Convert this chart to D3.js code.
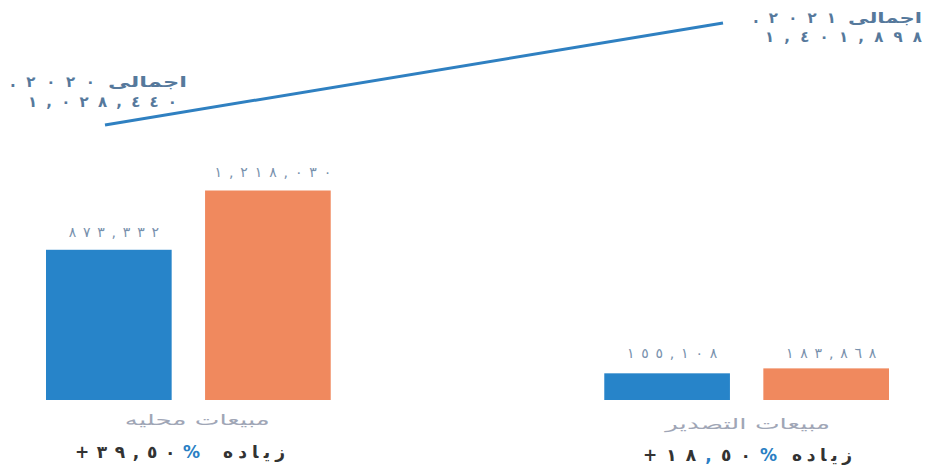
<!DOCTYPE html>
<html><head><meta charset="utf-8">
<script src="https://cdn.jsdelivr.net/npm/d3@7"></script>
<style>
html,body{margin:0;padding:0;background:#fff;}
svg{display:block;font-family:"DejaVu Sans",sans-serif;}
</style></head>
<body><svg id="chart" width="928" height="470"></svg>
<script>
// ---- data ----
const categories = ["مبيعات محليه", "مبيعات التصدير"];
const years = ["2020", "2021"];
const yearLabels = ["٢٠٢٠", "٢٠٢١"];
const sales2020 = [873332, 155108];
const sales2021 = [1218030, 183868];
const totals = [1028440, 1401898];
const increaseNumbers = ["+٣٩", "+١٨"];
const increaseDecimals = ["٥٠", "٥٠"];
const increaseWord = "زياده";
const totalWord = "اجمالى";
const colors = {"2020": "#2784c9", "2021": "#f0895e"};

const arDigits = "٠١٢٣٤٥٦٧٨٩";
const toAr = s => String(s).replace(/[0-9]/g, d => arDigits[+d]);
const fmt = v => toAr(d3.format(",")(v));

const svg = d3.select("#chart");

// scales
const x0 = d3.scaleBand().domain(categories).range([46, 889]).paddingInner(0.49).paddingOuter(0);
const x1 = d3.scaleBand().domain(years).range([0, x0.bandwidth()]).paddingInner(0.21);
const y = d3.scaleLinear().domain([0, 1400000]).range([400, 159.2]);

const rows = categories.map((c, i) => ({cat: c, vals: [{yr: "2020", v: sales2020[i]}, {yr: "2021", v: sales2021[i]}]}));

const grp = svg.append("g").selectAll("g.grp").data(rows).join("g")
  .attr("transform", d => `translate(${x0(d.cat)},0)`);

grp.selectAll("rect").data(d => d.vals).join("rect")
  .attr("x", d => x1(d.yr))
  .attr("y", d => y(d.v))
  .attr("width", x1.bandwidth())
  .attr("height", d => y(0) - y(d.v))
  .attr("fill", d => colors[d.yr]);

// value labels (spaced digits)
grp.selectAll("text.val").data((d, i) => d.vals.map(v => ({...v, small: i === 1}))).join("text")
  .attr("class", "val")
  .attr("x", d => x1(d.yr) + x1.bandwidth() / 2 + 5)
  .attr("y", d => d.small ? 358 : y(d.v) - 13)
  .attr("text-anchor", "middle")
  .style("direction", "ltr").style("unicode-bidi", "bidi-override")
  .attr("fill", "#7891ad")
  .attr("font-size", 14)
  .text(d => fmt(d.v))
  .attr("textLength", d => fmt(d.v).length * 13.2 - 2)
  .attr("lengthAdjust", "spacing");

// category labels
grp.append("text")
  .attr("x", (d, i) => x0.bandwidth() / 2 + (i === 0 ? 9 : 1))
  .attr("y", (d, i) => i === 0 ? 425 : 429)
  .attr("text-anchor", "middle")
  .attr("fill", "#a0a6b6")
  .attr("font-size", 15)
  .text(d => d.cat)
  .attr("textLength", (d, i) => i === 0 ? 145 : 165)
  .attr("lengthAdjust", "spacingAndGlyphs");

// increase labels
grp.each(function(d, i) {
  const gg = d3.select(this);
  const gx = x0(d.cat);
  const yy = i === 0 ? 458 : 461;
  const numLeft = (i === 0 ? 75 : 643) - gx;
  const numW = i === 0 ? 125 : 134;
  const wordLeft = (i === 0 ? 223 : 792) - gx;
  const wordW = i === 0 ? 62 : 60;
  const num = gg.append("text")
    .attr("x", numLeft).attr("y", yy).attr("text-anchor", "start")
    .attr("fill", "#333").attr("font-size", 17).attr("font-weight", "bold")
    .style("direction", "ltr").style("unicode-bidi", "bidi-override");
  num.append("tspan").text(increaseNumbers[i]);
  num.append("tspan").attr("fill", i === 1 ? "#2a7fc4" : "#333").text(",");
  num.append("tspan").text(increaseDecimals[i]);
  num.append("tspan").attr("fill", "#2a7fc4").text("%");
  num.attr("textLength", numW).attr("lengthAdjust", "spacing");
  gg.append("text")
    .attr("x", wordLeft).attr("y", yy).attr("text-anchor", "start")
    .attr("fill", "#333").attr("font-size", 17).attr("font-weight", "bold")
    .text(increaseWord)
    .attr("textLength", wordW).attr("lengthAdjust", "spacing");
});

// total line
const xl = d3.scalePoint().domain(years).range([105, 723]);
const yl = d3.scaleLinear().domain([totals[0], totals[1]]).range([125, 23]);
const lineData = years.map((yr, i) => ({yr, v: totals[i]}));
svg.append("path")
  .datum(lineData)
  .attr("fill", "none")
  .attr("stroke", "#2f80c1")
  .attr("stroke-width", 3)
  .attr("d", d3.line().x(d => xl(d.yr)).y(d => yl(d.v)));

// total labels
const totalPos = [
  {yearL: 10, yearW: 85, wordL: 108, wordW: 79, numL: 28, numW: 149, y1: 87, y2: 107},
  {yearL: 753, yearW: 83, wordL: 848, wordW: 74, numL: 765, numW: 157, y1: 23, y2: 42}
];
lineData.forEach((d, i) => {
  const p = totalPos[i];
  svg.append("text")
    .attr("x", p.wordL).attr("y", p.y1)
    .attr("fill", "#56799c").attr("font-size", 15).attr("font-weight", "bold")
    .text(totalWord)
    .attr("textLength", p.wordW).attr("lengthAdjust", "spacingAndGlyphs");
  svg.append("text")
    .attr("x", p.yearL).attr("y", p.y1)
    .style("direction", "ltr").style("unicode-bidi", "bidi-override")
    .attr("fill", "#56799c").attr("font-size", 15).attr("font-weight", "bold")
    .text("." + yearLabels[i])
    .attr("textLength", p.yearW).attr("lengthAdjust", "spacing");
  svg.append("text")
    .attr("x", p.numL).attr("y", p.y2)
    .style("direction", "ltr").style("unicode-bidi", "bidi-override")
    .attr("fill", "#56799c").attr("font-size", 15).attr("font-weight", "bold")
    .text(fmt(d.v))
    .attr("textLength", p.numW).attr("lengthAdjust", "spacing");
});
</script>
</body></html>
